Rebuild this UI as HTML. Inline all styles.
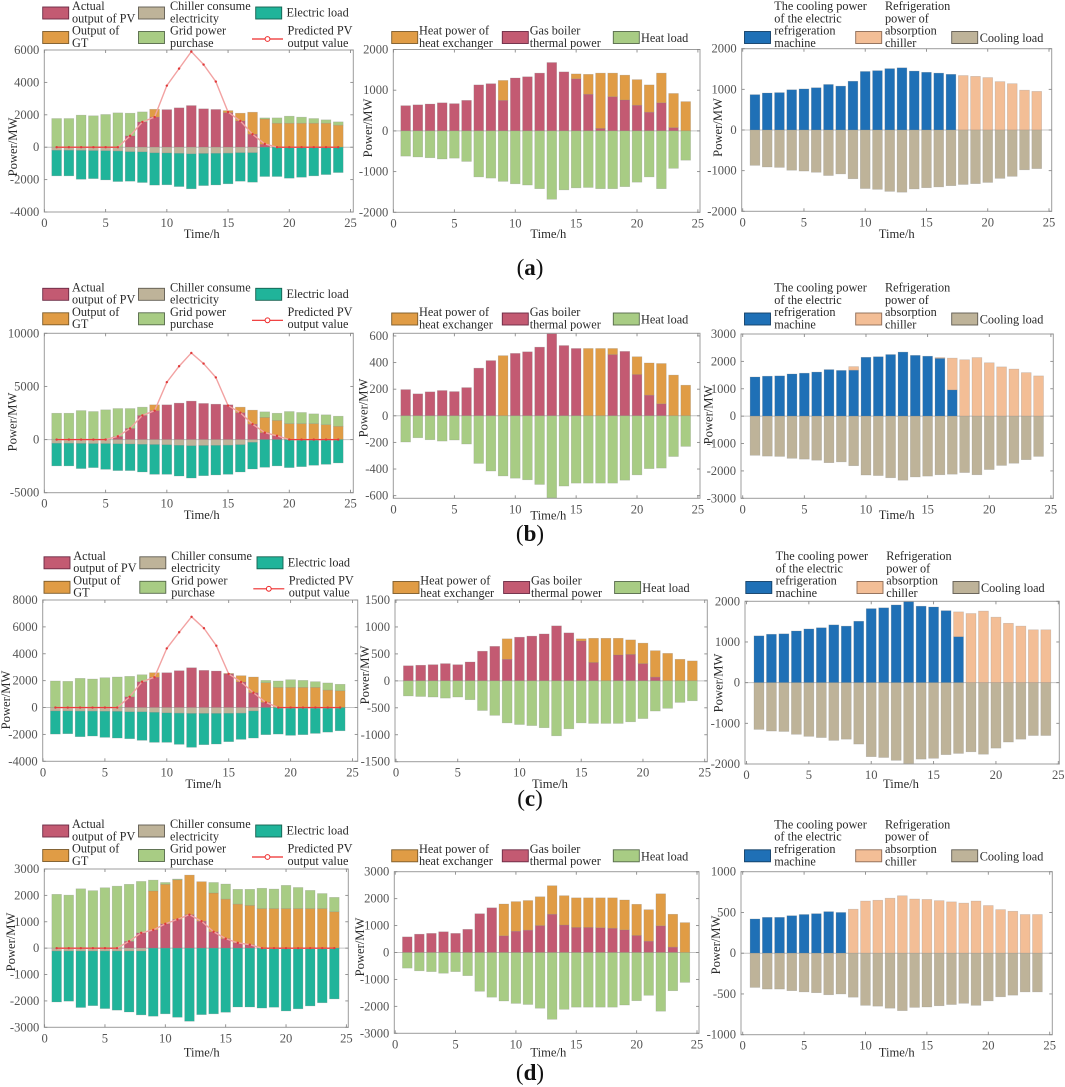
<!DOCTYPE html>
<html lang="en">
<head>
<meta charset="utf-8">
<title>Power balance charts</title>
<style>
html,body{margin:0;padding:0;background:#fff;}
svg{display:block;font-family:"Liberation Serif",serif;filter:blur(0.35px);}
</style>
</head>
<body>
<svg id="figure" xmlns="http://www.w3.org/2000/svg" width="1065" height="1087" viewBox="0 0 1065 1087"></svg>
<script>
// ---------- shared categories ----------
const hours = [1,2,3,4,5,6,7,8,9,10,11,12,13,14,15,16,17,18,19,20,21,22,23,24];
const xTicks = [0,5,10,15,20,25];

// ---------- (a) ----------
const aPv      = [0,0,0,0,0,0,700,1560,1860,2320,2430,2570,2370,2330,2130,1620,800,180,0,0,0,0,0,0];
const aGt      = [0,0,0,0,0,0,0,0,480,0,0,0,0,0,130,480,1360,1560,1480,1480,1480,1480,1480,1360];
const aGrid    = [1770,1770,1980,1940,2020,2120,1400,620,0,0,0,0,0,0,0,0,0,70,330,435,375,290,210,205];
const aChiller = [190,190,200,210,220,240,280,290,350,360,380,410,390,380,370,340,340,0,0,0,0,0,0,0];
const aElec    = [1580,1580,1780,1730,1800,1880,1820,1890,1990,1960,2050,2160,1980,1950,1890,1760,1820,1810,1810,1915,1855,1770,1690,1565];
const aPred    = [0,0,0,0,0,0,700,1560,1860,3800,4850,5900,5100,4050,2170,1620,800,200,0,0,0,0,0,0];
const aBoiler  = [620,640,660,690,670,750,1130,1160,750,1300,1330,1420,1680,1450,1280,900,60,840,760,630,460,690,80,0];
const aHx      = [0,0,0,0,0,0,0,0,490,0,0,0,0,0,120,490,1360,580,610,630,670,730,840,720];
const aHeat    = [620,640,660,690,670,750,1130,1160,1240,1300,1330,1420,1680,1450,1400,1390,1420,1420,1370,1260,1130,1420,920,720];
const aErm     = [870,910,920,990,1010,1040,1120,1080,1200,1440,1460,1510,1530,1450,1420,1400,1370,0,0,0,0,0,0,0];
const aAbs     = [0,0,0,0,0,0,0,0,0,0,0,0,0,0,0,0,0,1340,1320,1290,1190,1140,980,950];
const aCool    = [870,910,920,990,1010,1040,1120,1080,1200,1440,1460,1510,1530,1450,1420,1400,1370,1340,1320,1290,1190,1140,980,950];

// ---------- (b) ----------
const bPv      = [0,0,0,0,0,300,1050,2270,2720,3270,3430,3620,3400,3330,3270,2530,1450,650,350,0,0,0,0,0];
const bGt      = [0,0,0,0,0,0,0,0,550,0,0,0,0,0,0,520,1320,1430,1450,1500,1500,1500,1400,1250];
const bGrid    = [2480,2480,2730,2640,2800,2620,1870,780,0,0,0,0,0,0,0,0,0,530,680,1140,1050,920,930,950];
const bChiller = [350,350,370,380,380,400,420,450,470,490,540,580,560,550,530,480,260,0,0,0,0,0,0,0];
const bElec    = [2130,2130,2360,2260,2420,2520,2500,2600,2800,2780,2890,3040,2840,2780,2740,2570,2510,2610,2480,2640,2550,2420,2330,2200];
const bPred    = [0,0,0,0,0,300,1050,2270,2720,5400,6900,8150,7150,5850,3200,2530,1450,650,350,0,0,0,0,0];
const bBoiler  = [197,165,180,190,182,212,358,415,0,469,481,516,618,528,506,0,0,460,484,310,155,90,0,0];
const bHx      = [0,0,0,0,0,0,0,0,452,0,0,0,0,0,0,506,506,46,0,134,242,303,306,230];
const bHeat    = [197,165,180,190,182,212,358,415,452,469,481,516,618,528,506,506,506,506,484,444,397,393,306,230];
const bErm     = [1430,1460,1470,1540,1570,1610,1700,1670,1680,2150,2170,2250,2340,2220,2190,2110,960,0,0,0,0,0,0,0];
const bAbs     = [0,0,0,0,0,0,0,0,130,0,0,0,0,0,0,30,1160,2060,2140,1950,1800,1720,1590,1470];
const bCool    = [1430,1460,1470,1540,1570,1610,1700,1670,1810,2150,2170,2250,2340,2220,2190,2140,2120,2060,2140,1950,1800,1720,1590,1470];

// ---------- (c) ----------
const cPv      = [0,0,0,0,0,0,800,1920,2250,2590,2740,2960,2765,2715,2500,1900,1100,380,0,0,0,0,0,0];
const cGt      = [0,0,0,0,0,0,0,0,340,0,0,0,0,0,40,470,1170,1470,1500,1500,1500,1500,1300,1250];
const cGrid    = [1975,1950,2170,2120,2220,2270,1520,520,0,0,0,0,0,0,0,0,0,170,475,570,520,425,530,480];
const cChiller = [260,260,270,270,280,290,320,320,360,400,420,440,440,440,430,420,260,0,0,0,0,0,0,0];
const cElec    = [1715,1690,1900,1850,1940,1980,2000,2120,2230,2190,2320,2520,2325,2275,2110,1950,2010,2020,1975,2070,2020,1925,1830,1730];
const cPred    = [0,0,0,0,0,0,800,1920,2250,4400,5600,6750,5900,4600,2500,1900,1100,380,0,0,0,0,0,0];
const cBoiler  = [280,290,300,320,300,350,550,640,400,810,830,870,1020,890,740,340,0,480,490,320,70,0,0,0];
const cHx      = [0,0,0,0,0,0,0,0,380,0,0,0,0,0,40,450,790,310,270,380,490,510,400,370];
const cHeat    = [280,290,300,320,300,350,550,640,780,810,830,870,1020,890,780,790,790,790,760,700,560,510,400,370];
const cErm     = [1150,1190,1200,1270,1320,1350,1420,1390,1510,1820,1840,1910,2000,1880,1860,1770,1130,0,0,0,0,0,0,0];
const cAbs     = [0,0,0,0,0,0,0,0,0,0,0,0,0,0,0,0,610,1700,1760,1610,1460,1390,1300,1300];
const cCool    = [1150,1190,1200,1270,1320,1350,1420,1390,1510,1820,1840,1910,2000,1880,1860,1770,1740,1700,1760,1610,1460,1390,1300,1300];

// ---------- (d) ----------
const dPv      = [0,0,0,0,0,0,260,580,690,920,1090,1270,1020,620,360,200,130,0,0,0,0,0,0,0];
const dGt      = [0,0,0,0,0,0,0,0,1480,1500,1500,1500,1500,1470,1500,1470,1490,1500,1500,1500,1500,1500,1500,1380];
const dGrid    = [2040,2010,2250,2180,2290,2350,2160,1950,410,70,30,0,0,400,570,560,610,770,740,880,800,690,570,545];
const dChiller = [110,110,110,110,110,110,110,110,0,0,0,0,0,0,0,0,0,0,0,0,0,0,0,0];
const dElec    = [1930,1900,2140,2070,2180,2240,2310,2420,2580,2490,2620,2770,2520,2490,2430,2230,2230,2270,2240,2380,2300,2190,2070,1925];
const dPred    = [0,0,0,0,0,0,260,580,690,920,1090,1270,1020,620,360,200,130,0,0,0,0,0,0,0];
const dBoiler  = [580,680,710,770,710,860,1440,1660,620,790,830,1000,1420,1020,930,930,920,900,840,630,420,990,200,0];
const dHx      = [0,0,0,0,0,0,0,0,1180,1100,1100,1070,1060,1090,1100,1100,1110,1130,1110,1160,1170,1190,1220,1110];
const dHeat    = [580,680,710,770,710,860,1440,1660,1800,1890,1930,2070,2480,2110,2030,2030,2030,2030,1950,1790,1590,2180,1420,1110];
const dErm     = [420,440,440,460,475,485,510,500,0,0,0,0,0,0,0,0,0,0,0,0,0,0,0,0];
const dAbs     = [0,0,0,0,0,0,0,0,540,640,650,675,705,665,660,645,630,615,640,585,535,515,475,475];
const dCool    = [420,440,440,460,475,485,510,500,540,640,650,675,705,665,660,645,630,615,640,585,535,515,475,475];

// ---------- y tick labels ----------
const a1Ticks = [-4000,-2000,0,2000,4000,6000];
const a2Ticks = [-2000,-1000,0,1000,2000];
const a3Ticks = [-2000,-1000,0,1000,2000];
const b1Ticks = [-5000,0,5000,10000];
const b2Ticks = [-600,-400,-200,0,200,400,600];
const b3Ticks = [-3000,-2000,-1000,0,1000,2000,3000];
const c1Ticks = [-4000,-2000,0,2000,4000,6000,8000];
const c2Ticks = [-1500,-1000,-500,0,500,1000,1500];
const c3Ticks = [-2000,-1000,0,1000,2000];
const d1Ticks = [-3000,-2000,-1000,0,1000,2000,3000];
const d2Ticks = [-3000,-2000,-1000,0,1000,2000,3000];
const d3Ticks = [-1000,-500,0,500,1000];

// ---------- colours ----------
const RED='#C35A72', ORANGE='#E09C45', GREEN='#A8CC84', TAN='#BEB399', TEAL='#20B49A', BLUE='#1F70B6', PEACH='#F3BE96';
const EDGE={};
EDGE[RED]='#6a2a44';EDGE[ORANGE]='#7a5a2a';EDGE[GREEN]='#55684a';EDGE[TAN]='#5f5a50';EDGE[TEAL]='#14604f';EDGE[BLUE]='#123f66';EDGE[PEACH]='#8c6a55';

const svg=document.getElementById('figure');
const NS='http://www.w3.org/2000/svg';
function make(tag,attrs,parent){
  const el=document.createElementNS(NS,tag);
  for(const k in attrs){el.setAttribute(k,attrs[k]);}
  parent.appendChild(el);
  return el;
}
function label(parent,x,y,str,anchor,fill,size,name){
  const t=make('text',{x:x,y:y,'text-anchor':anchor,fill:fill,'font-size':size},parent);
  t.textContent=str;
  
  
  return t;
}

function drawLegend(g,items,dx,dy){
  items.forEach(function(it){
    const entry=make('g',{},g);
    
    
    if(it.line){
      const ln=make('line',{x1:it.x+dx,x2:it.x+31+dx,y1:39+dy,y2:39+dy,stroke:'#ee2a2a','stroke-width':1.2},entry);
      
      
      const mk=make('circle',{cx:it.x+15.5+dx,cy:39+dy,r:2.4,fill:'#fff',stroke:'#ee2a2a','stroke-width':1},entry);
      
      
    }else{
      const sw=make('rect',{x:it.x+dx,y:it.y+dy,width:26,height:12,fill:it.color,stroke:EDGE[it.color],'stroke-width':0.9},entry);
      
      
    }
    it.lines.forEach(function(txt,i){
      label(entry,it.tx+dx,it.ty+i*12.35+dy,txt,'start','#2a2a2a',12.25,'legend-text');
    });
  });
}

function electricLegend(){return [
  {key:'actual-pv',x:42.7,y:7,color:RED,tx:72,ty:10,lines:['Actual','output of PV']},
  {key:'chiller',x:138.5,y:7,color:TAN,tx:170,ty:10,lines:['Chiller consume','electricity']},
  {key:'electric-load',x:255.7,y:7,color:TEAL,tx:286.5,ty:16.5,lines:['Electric load']},
  {key:'gt',x:42.7,y:31.5,color:ORANGE,tx:72,ty:34.5,lines:['Output of','GT']},
  {key:'grid',x:138.5,y:31.5,color:GREEN,tx:170,ty:34.5,lines:['Grid power','purchase']},
  {key:'predicted-pv',line:true,x:252,y:0,tx:287.5,ty:34.5,lines:['Predicted PV','output value']}
];}
function heatLegend(){return [
  {key:'heat-exchanger',x:391.7,y:31.5,color:ORANGE,tx:419,ty:34.5,lines:['Heat power of','heat exchanger']},
  {key:'gas-boiler',x:502.3,y:31.5,color:RED,tx:529.7,ty:34.5,lines:['Gas boiler','thermal power']},
  {key:'heat-load',x:613.3,y:31.5,color:GREEN,tx:641,ty:42,lines:['Heat load']}
];}
function coolLegend(){return [
  {key:'electric-refrigeration',x:744.5,y:31.5,color:BLUE,tx:774.3,ty:10,lines:['The cooling power','of the electric','refrigeration','machine']},
  {key:'absorption-chiller',x:855.7,y:31.5,color:PEACH,tx:885,ty:10,lines:['Refrigeration','power of','absorption','chiller']},
  {key:'cooling-load',x:951.7,y:31.5,color:TAN,tx:979.7,ty:42,lines:['Cooling load']}
];}

function drawPanel(p){
  const g=make('g',{},svg);
  
  
  const xS=function(v){return p.x0+v/25*(p.x25-p.x0);};
  const yS=function(v){return p.b-(v-p.ymin)/(p.ymax-p.ymin)*(p.b-p.t);};

  drawLegend(g,p.legend,p.ldx,p.ldy);

  // zero line
  const zero=make('line',{x1:p.l,x2:p.r,y1:yS(0),y2:yS(0),stroke:'#c4c4c4','stroke-width':1},g);
  
  

  // stacked bars
  const bw=0.8;
  hours.forEach(function(h,i){
    let up=0, down=0;
    p.series.forEach(function(s){
      const v=s.vals[i];
      if(!v) return;
      let top,bot;
      if(s.sign>0){bot=up;top=up+v;up=top;}
      else{top=down;bot=down-v;down=bot;}
      const bar=make('rect',{x:xS(h-bw/2),width:xS(bw)-xS(0),y:yS(top),height:yS(bot)-yS(top),fill:s.color,stroke:'rgba(130,130,130,.35)','stroke-width':0.6},g);
      
      
    });
  });

  // predicted line
  if(p.pred){
    const pts=hours.map(function(h,i){return xS(h)+','+yS(p.pred[i]);}).join(' ');
    const pl=make('polyline',{points:pts,fill:'none',stroke:'#f2a2a2','stroke-width':1.4},g);
    
    
    hours.forEach(function(h,i){
      if(i>0 && p.pred[i]===0 && p.pred[i-1]===0){
        const seg=make('line',{x1:xS(hours[i-1]),y1:yS(0),x2:xS(h),y2:yS(0),stroke:'#ee3c3c','stroke-width':1.2},g);
        
        
      }
    });
    hours.forEach(function(h,i){
      const c=make('circle',{cx:xS(h),cy:yS(p.pred[i]),r:1.2,fill:'#e03a3a'},g);
      
      
    });
  }

  // axes frame
  const frame=make('rect',{x:p.l,y:p.t,width:p.r-p.l,height:p.b-p.t,fill:'none',stroke:'#9c9c9c','stroke-width':1},g);
  
  

  // ticks and labels
  xTicks.forEach(function(v){
    const x=xS(v);
    const t1=make('line',{x1:x,x2:x,y1:p.b,y2:p.b-3,stroke:'#8a8a8a','stroke-width':0.9},g);
    
    
    const t2=make('line',{x1:x,x2:x,y1:p.t,y2:p.t+3,stroke:'#8a8a8a','stroke-width':0.9},g);
    
    
    label(g,x,p.b+15,String(v),'middle','#555',12.6,'x-tick-label');
  });
  p.yTicks.forEach(function(v){
    const y=yS(v);
    const t1=make('line',{x1:p.l,x2:p.l+3,y1:y,y2:y,stroke:'#8a8a8a','stroke-width':0.9},g);
    
    
    const t2=make('line',{x1:p.r,x2:p.r-3,y1:y,y2:y,stroke:'#8a8a8a','stroke-width':0.9},g);
    
    
    label(g,p.l-5,y+4,String(v),'end','#555',12.6,'y-tick-label');
  });

  // axis titles
  label(g,p.xt[0],p.xt[1]+4,'Time/h','middle','#2a2a2a',12.6,'x-axis-title');
  const yt=label(g,0,0,'Power/MW','middle','#2a2a2a',12.6,'y-axis-title');
  yt.setAttribute('transform','translate('+(p.yt[0]+4)+','+p.yt[1]+') rotate(-90)');
}

function elecSeries(pv,gt,grid,ch,el){return [
  {key:'actual-pv',vals:pv,color:RED,sign:1},
  {key:'gt',vals:gt,color:ORANGE,sign:1},
  {key:'grid',vals:grid,color:GREEN,sign:1},
  {key:'chiller',vals:ch,color:TAN,sign:-1},
  {key:'electric-load',vals:el,color:TEAL,sign:-1}
];}
function heatSeries(bo,hx,hl){return [
  {key:'gas-boiler',vals:bo,color:RED,sign:1},
  {key:'heat-exchanger',vals:hx,color:ORANGE,sign:1},
  {key:'heat-load',vals:hl,color:GREEN,sign:-1}
];}
function coolSeries(er,ab,cl){return [
  {key:'electric-refrigeration',vals:er,color:BLUE,sign:1},
  {key:'absorption-chiller',vals:ab,color:PEACH,sign:1},
  {key:'cooling-load',vals:cl,color:TAN,sign:-1}
];}

const panels=[
 {id:'a-electric',l:44.3,r:353.3,x0:44.4,x25:350.5,t:50,b:212,ymin:-4000,ymax:6000,yTicks:a1Ticks,series:elecSeries(aPv,aGt,aGrid,aChiller,aElec),pred:aPred,legend:electricLegend(),ldx:0,ldy:0,xt:[201.7,234],yt:[13,147]},
 {id:'a-heat',l:393.3,r:700,x0:393.5,x25:697.9,t:49.5,b:212.3,ymin:-2000,ymax:2000,yTicks:a2Ticks,series:heatSeries(aBoiler,aHx,aHeat),legend:heatLegend(),ldx:0,ldy:0,xt:[548.3,234],yt:[368,128]},
 {id:'a-cooling',l:741.7,r:1051.7,x0:742.7,x25:1049,t:48.7,b:211.3,ymin:-2000,ymax:2000,yTicks:a3Ticks,series:coolSeries(aErm,aAbs,aCool),legend:coolLegend(),ldx:0,ldy:0,xt:[896.7,234],yt:[718,127.5]},

 {id:'b-electric',l:44.3,r:353.3,x0:44.4,x25:350.5,t:333.3,b:492.7,ymin:-5000,ymax:10000,yTicks:b1Ticks,series:elecSeries(bPv,bGt,bGrid,bChiller,bElec),pred:bPred,legend:electricLegend(),ldx:0,ldy:281.3,xt:[201.7,515],yt:[12.7,422]},
 {id:'b-heat',l:393.3,r:700,x0:393.5,x25:697.9,t:333.3,b:498.3,ymin:-620,ymax:620,yTicks:b2Ticks,series:heatSeries(bBoiler,bHx,bHeat),legend:heatLegend(),ldx:0,ldy:281.5,xt:[548.3,515.7],yt:[363.3,408]},
 {id:'b-cooling',l:741,r:1053.3,x0:742.7,x25:1050.9,t:334,b:498.3,ymin:-3000,ymax:3000,yTicks:b3Ticks,series:coolSeries(bErm,bAbs,bCool),legend:coolLegend(),ldx:0,ldy:281.5,xt:[896.7,515],yt:[708.3,415]},

 {id:'c-electric',l:42.7,r:357.7,x0:43,x25:352.5,t:600,b:761.3,ymin:-4000,ymax:8000,yTicks:c1Ticks,series:elecSeries(cPv,cGt,cGrid,cChiller,cElec),pred:cPred,legend:electricLegend(),ldx:1.3,ldy:549.8,xt:[203.3,784],yt:[6,700]},
 {id:'c-heat',l:395,r:707.3,x0:396,x25:704.7,t:600,b:761.7,ymin:-1500,ymax:1500,yTicks:c2Ticks,series:heatSeries(cBoiler,cHx,cHeat),legend:heatLegend(),ldx:1.3,ldy:550,xt:[550,784],yt:[365,675]},
 {id:'c-cooling',l:745,r:1059.3,x0:746.5,x25:1058.3,t:601.3,b:764,ymin:-2000,ymax:2000,yTicks:c3Ticks,series:coolSeries(cErm,cAbs,cCool),legend:coolLegend(),ldx:1.3,ldy:550,xt:[901,784],yt:[718.3,683]},

 {id:'d-electric',l:44.3,r:348.3,x0:44.6,x25:346.4,t:869,b:1027.3,ymin:-3000,ymax:3000,yTicks:d1Ticks,series:elecSeries(dPv,dGt,dGrid,dChiller,dElec),pred:dPred,legend:electricLegend(),ldx:0,ldy:818,xt:[201.7,1052.3],yt:[11,942]},
 {id:'d-heat',l:394.3,r:699,x0:395.2,x25:697,t:871.7,b:1033.3,ymin:-3000,ymax:3000,yTicks:d2Ticks,series:heatSeries(dBoiler,dHx,dHeat),legend:heatLegend(),ldx:0,ldy:818.3,xt:[548.3,1052.3],yt:[360,947]},
 {id:'d-cooling',l:741,r:1052.3,x0:742.7,x25:1049.7,t:871.7,b:1034.7,ymin:-1000,ymax:1000,yTicks:d3Ticks,series:coolSeries(dErm,dAbs,dCool),legend:coolLegend(),ldx:0,ldy:818.3,xt:[896.7,1052.3],yt:[716,945]}
];
panels.forEach(drawPanel);

// captions
[['a',268],['b',534],['c',799],['d',1073]].forEach(function(c){
  const t=make('text',{x:530,y:c[1]+7,'text-anchor':'middle',fill:'#111','font-size':23},svg);
  
  
  const o=make('tspan',{},t); o.textContent='(';
  const b=make('tspan',{'font-weight':'bold'},t); b.textContent=c[0];
  const e=make('tspan',{},t); e.textContent=')';
});
</script>
</body>
</html>
